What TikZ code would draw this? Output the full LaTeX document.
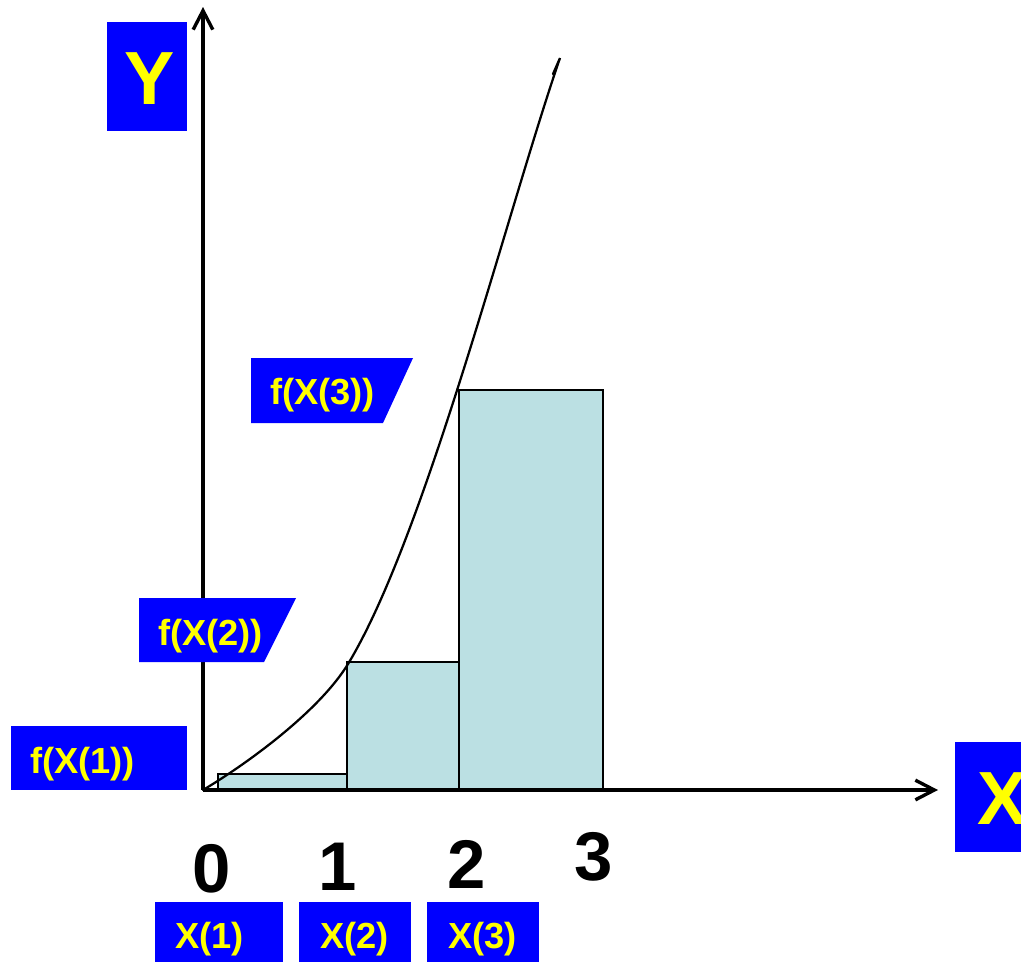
\documentclass[tikz,border=0pt]{standalone}
\usepackage{fontspec}
\setmainfont{Liberation Sans}
\usetikzlibrary{arrows.meta}
\definecolor{lblue}{HTML}{0000FF}
\definecolor{lyel}{HTML}{FFFF00}
\definecolor{barc}{HTML}{BBE0E3}

\begin{document}
\begin{tikzpicture}[x=0.025cm, y=-0.025cm,
  lbl/.style={font=\fontsize{25.8}{28}\selectfont\bfseries, text=lyel, inner sep=0pt},
  big/.style={font=\fontsize{53.6}{60}\selectfont\bfseries, text=lyel, inner sep=0pt},
  num/.style={font=\fontsize{49}{54}\selectfont\bfseries, inner sep=0pt},
  bar/.style={draw, fill=barc, line width=1.9pt},
  axis/.style={line width=2.4pt, -{Straight Barb[length=13.5pt,width=14pt]}}]
\useasboundingbox (0,0) rectangle (1021,962);

\draw[bar] (218,790) rectangle (347,774);
\draw[bar] (347,790) rectangle (459,662);
\draw[bar] (459,790) rectangle (603,390);

\coordinate (o) at (203,790);
\coordinate (ytip) at (203,7);
\coordinate (xtip) at (938,790);
\draw[axis] (o) -- (ytip);
\draw[axis] (o) -- (xtip);

\coordinate (c1) at (348,664);
\coordinate (cend) at (560,58);
\draw[line width=1.6pt, line cap=round] (o) .. controls (250,762) and (320,710) .. (c1)
  .. controls (425.7,535.7) and (507.8,209.4) .. (cend) -- (553,74);

\fill[lblue] (107,22) rectangle (187,131);
\node[big, anchor=base] (ylab) at (150,104) {Y};
\fill[lblue] (955,742) rectangle (1035,852);
\node[big, anchor=base west] (xlab) at (977,824) {X};

\fill[lblue] (11,726) rectangle (187,790);
\node[lbl, anchor=base west] (f1) at (30,773) {f(X(1))};
\fill[lblue] (139,598) -- (296,598) -- (264,662) -- (139,662) -- cycle;
\node[lbl, anchor=base west] (f2) at (158,645) {f(X(2))};
\fill[lblue] (251,358) -- (413,358) -- (383,423) -- (251,423) -- cycle;
\node[lbl, anchor=base west] (f3) at (270,404) {f(X(3))};

\node[num, anchor=base] (n0) at (212,892) {0};
\node[num, anchor=base] (n1) at (338,890) {1};
\node[num, anchor=base] (n2) at (467,888) {2};
\node[num, anchor=base] (n3) at (594,880) {3};

\fill[lblue] (155,902) rectangle (283,962);
\node[lbl, anchor=base west] (x1) at (175,948) {X(1)};
\fill[lblue] (299,902) rectangle (411,962);
\node[lbl, anchor=base west] (x2) at (320,948) {X(2)};
\fill[lblue] (427,902) rectangle (539,962);
\node[lbl, anchor=base west] (x3) at (448,948) {X(3)};
\end{tikzpicture}
\end{document}
